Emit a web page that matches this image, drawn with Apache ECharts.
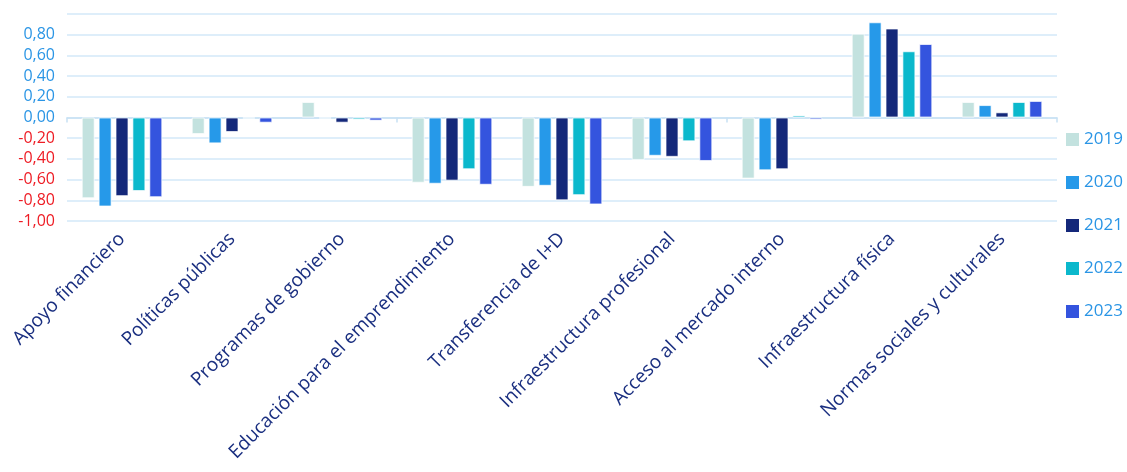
<!DOCTYPE html>
<html>
<head>
<meta charset="utf-8">
<script src="https://cdn.jsdelivr.net/npm/echarts@6/dist/echarts.min.js"></script>
<style>
  html, body { margin: 0; padding: 0; background: #fff; }
  #chart { width: 1127px; height: 472px; }
</style>
</head>
<body>
<div id="chart"></div>
<script>
  var categories = ['Apoyo financiero', 'Políticas públicas', 'Programas de gobierno',
    'Educación para el emprendimiento', 'Transferencia de I+D', 'Infraestructura profesional',
    'Acceso al mercado interno', 'Infraestructura física', 'Normas sociales y culturales'];
  var years = ['2019', '2020', '2021', '2022', '2023'];
  var v2019 = [-0.78, -0.16, 0.15, -0.63, -0.67, -0.41, -0.59, 0.81, 0.15];
  var v2020 = [-0.86, -0.25, -0.01, -0.64, -0.66, -0.37, -0.51, 0.92, 0.12];
  var v2021 = [-0.76, -0.14, -0.05, -0.61, -0.80, -0.38, -0.50, 0.86, 0.05];
  var v2022 = [-0.71, -0.01, -0.02, -0.50, -0.75, -0.23, 0.02, 0.64, 0.15];
  var v2023 = [-0.77, -0.05, -0.03, -0.65, -0.84, -0.42, -0.02, 0.71, 0.16];
  var colors = ['#c3e2df', '#2699e9', '#14287a', '#0bb8cc', '#3454de'];

  var values = [v2019, v2020, v2021, v2022, v2023];
  var series = [];
  for (var i = 0; i < years.length; i++) {
    series.push({
      name: years[i],
      type: 'bar',
      data: values[i],
      barWidth: 13,
      barGap: '30%',
      itemStyle: { color: colors[i], borderColor: 'rgba(255,255,255,0.7)', borderWidth: 1 }
    });
  }

  var chart = echarts.init(document.getElementById('chart'));
  chart.setOption({
    animation: false,
    color: colors,
    textStyle: { fontFamily: 'Open Sans' },
    grid: { left: 67, right: 70, top: 14, bottom: 251 },
    legend: {
      orient: 'vertical',
      left: 1061,
      top: 126,
      itemGap: 26,
      itemWidth: 13,
      itemHeight: 13,
      icon: 'rect',
      itemStyle: { borderWidth: 0 },
      textStyle: { color: '#2a95e5', fontSize: 17, fontFamily: 'Open Sans' },
      data: years
    },
    xAxis: [{
      type: 'category',
      data: categories,
      axisLine: { onZero: true, lineStyle: { color: '#c8e1f4', width: 1.5 } },
      axisTick: { show: true, length: 5, lineStyle: { color: '#c8e1f4', width: 1.5 } },
      axisLabel: { show: false }
    }, {
      type: 'category',
      data: categories,
      position: 'bottom',
      axisLine: { show: false, onZero: false },
      axisTick: { show: false },
      axisLabel: {
        rotate: 45,
        margin: 15,
        color: '#1a2f80',
        fontSize: 19,
        fontFamily: 'Open Sans'
      }
    }],
    yAxis: {
      type: 'value',
      min: -1,
      max: 1,
      interval: 0.2,
      axisLine: { show: false },
      axisTick: { show: false },
      splitLine: { lineStyle: { color: '#d3e8f8', width: 1.5 } },
      axisLabel: {
        fontSize: 16,
        margin: 12,
        fontFamily: 'Open Sans',
        color: function (v) { return Number(v) < 0 ? '#ee1c24' : '#2a95e5'; },
        formatter: function (v) {
          if (v > 0.99) return '';
          return v.toFixed(2).replace('.', ',');
        }
      }
    },
    series: series
  });
</script>
</body>
</html>
